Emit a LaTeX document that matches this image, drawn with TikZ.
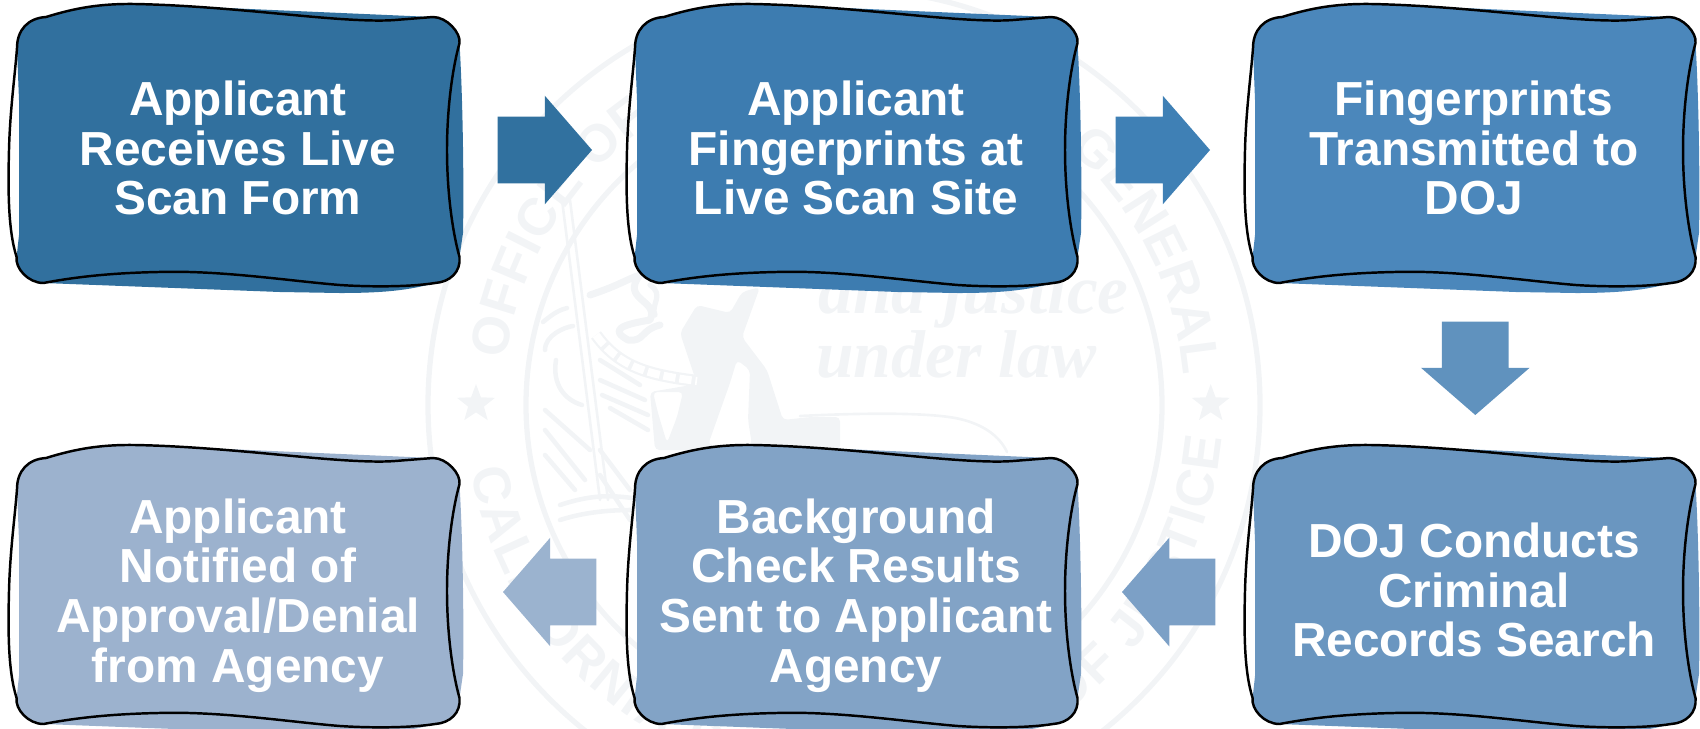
\documentclass[tikz,border=0pt]{standalone}
\usepackage{fontspec}
\setmainfont{Liberation Sans}
\newfontfamily\serifseal{Liberation Serif}
\usetikzlibrary{shapes.arrows,shapes.geometric,decorations.text}
\definecolor{sealc}{HTML}{F2F4F6}
\definecolor{cA}{HTML}{31709E}
\definecolor{cB}{HTML}{3D7CB0}
\definecolor{cC}{HTML}{4B87BB}
\definecolor{cD}{HTML}{6A96C0}
\definecolor{cE}{HTML}{82A3C6}
\definecolor{cF}{HTML}{9CB2CE}
\definecolor{aA}{HTML}{31719F}
\definecolor{aB}{HTML}{3F80B5}
\definecolor{aC}{HTML}{6092BE}
\definecolor{aD}{HTML}{7CA0C6}
\definecolor{aE}{HTML}{9BB3CF}
\newcommand{\sealtext}{\fontsize{30}{30}\selectfont\bfseries\color{sealc}}
\tikzset{
  boxtext/.style={text=white,align=center,inner sep=0pt,
    font=\fontsize{27.2}{28.3}\selectfont\bfseries},
  blockarrow/.style={single arrow,draw=none,outer sep=0pt,anchor=tip,
    single arrow head extend=0.42cm,single arrow tip angle=98,
    single arrow head indent=0pt},
  horizarrow/.style={blockarrow,inner xsep=0pt,inner ysep=0.66cm},
  vertarrow/.style={blockarrow,inner ysep=0pt,inner xsep=0.66cm},
  sealstroke/.style={draw=sealc,line width=2.6pt,line cap=round,line join=round},
  sealline/.style={draw=sealc,line width=1.5pt,line cap=round,line join=round},
  sealstar/.style={star,star points=5,star point ratio=2.4,fill=sealc,draw=none,
    minimum size=0.8cm,inner sep=0pt},
  sealword/.style={text=sealc,inner sep=0pt,anchor=base west,
    font=\serifseal\selectfont\bfseries\itshape},
  outline/.style={draw=black,line width=1.4pt,line join=round}
}
\newcommand{\blobshape}[3]{%
  \begin{scope}[shift={(#1,#2)}]
    \fill[#3] (17,48) .. controls (17,30) and (28,18) .. (46,17)
      .. controls (75,8) and (100,3.5) .. (135,4) -- (433,17)
      .. controls (447,17) and (461,33) .. (459.5,43)
      .. controls (463,100) and (464,190) .. (463,233) -- (459.5,257)
      .. controls (461,272) and (450,282) .. (435,283)
      .. controls (410,290) and (385,293) .. (340,293) -- (280,292) -- (43.5,283)
      .. controls (28,283) and (15,268) .. (16.6,257)
      -- (19,235) -- (19,100) -- cycle;
    \draw[outline] (46,17)
      .. controls (75,8) and (100,3.5) .. (135,4)
      .. controls (190,5) and (250,11) .. (293,15)
      .. controls (325,18) and (370,22) .. (395,20)
      -- (433,17)
      .. controls (447,17) and (461,33) .. (459.5,43)
      .. controls (452,70) and (447,110) .. (447,150)
      .. controls (447,190) and (452,230) .. (459.5,257)
      .. controls (461,272) and (450,282) .. (435,283)
      .. controls (410,287) and (370,287) .. (340,285)
      .. controls (290,281) and (220,270) .. (158,272)
      .. controls (110,273) and (75,277) .. (43.5,283)
      .. controls (28,283) and (15,268) .. (16.6,257)
      .. controls (8,230) and (8,190) .. (9,150)
      .. controls (10,110) and (15,75) .. (17,48)
      .. controls (17,30) and (28,18) .. (46,17) -- cycle;
  \end{scope}}
\begin{document}
\begin{tikzpicture}[x=0.02cm,y=-0.02cm]
\useasboundingbox (0,0) rectangle (1700,728);
\clip (0,0) rectangle (1700,728);
% ---- seal watermark
\coordinate (sc) at (844,405);
\draw[sealc,line width=3pt] (sc) circle (416);
\draw[sealc,line width=3pt] (sc) circle (318);
\node[sealstar] (starL) at (476,404) {};
\node[sealstar] (starR) at (1210.7,404) {};
\path[decorate,decoration={text along path,text align={fit to path},
   text={|\sealtext|OFFICE OF THE ATTORNEY GENERAL|\color{white}|.}}]
   (sc) ++(-172.4:341) arc (-172.4:-4:341);
\path[decorate,decoration={text along path,text align={fit to path},
   text={|\sealtext|CALIFORNIA DEPARTMENT OF JUSTICE|\color{white}|.}}]
   (sc) ++(170:379) arc (170:4:379);
\node[sealword,font=\serifseal\fontsize{39.5}{40}\selectfont\bfseries\itshape] (w1) at (818,313) {and justice};
\node[sealword,font=\serifseal\fontsize{38.5}{40}\selectfont\bfseries\itshape] (w2) at (816,377) {under law};
% spear
\draw[sealline] (562,200) -- (600,500);
\draw[sealline] (570,200) -- (608,500);
% figure mass
\fill[sealc,even odd rule,rounded corners=2.5pt]
  (680,333) -- (697,305) -- (730,313) -- (742,292) -- (760,287) -- (742,337)
  -- (767,370) -- (783,420) -- (810,417) -- (840,417) -- (840,450) -- (655,450)
  -- (650,392) -- (697,384) -- (690,363) -- cycle
  (653,392) -- (683,392) -- (677,417) -- (667,443) -- (658,413) -- cycle
  (737,360) -- (750,370) -- (748,420) -- (752,445) -- (708,445) -- (730,383) -- cycle;
% shield rim with teeth
\draw[sealc,line width=7pt] (596,335) .. controls (620,368) and (650,375) .. (697,381);
\draw[white,line width=4.5pt,dash pattern=on 7pt off 2.2pt] (596,335) .. controls (620,368) and (650,375) .. (697,381);
% plume
\draw[sealstroke,line width=4pt] (590,295) .. controls (620,285) and (625,280) .. (640,275)
  .. controls (620,300) and (660,300) .. (650,320) .. controls (620,325) and (610,330) .. (628,340)
  .. controls (645,342) and (640,330) .. (660,325);
\draw[sealstroke,line width=3pt] (650,285) .. controls (665,295) and (650,305) .. (655,315);
% left figure pieces
\draw[sealstroke] (543,322) .. controls (555,312) and (560,310) .. (567,308);
\draw[sealstroke] (545,350) .. controls (545,335) and (565,327) .. (573,326);
\draw[sealstroke] (556,360) .. controls (552,385) and (565,400) .. (582,405);
\draw[sealstroke] (545,410) -- (590,450);
\draw[sealstroke] (600,360) -- (640,385);
\draw[sealstroke] (600,380) -- (645,400);
\draw[sealstroke] (602,395) -- (648,415);
\draw[sealstroke] (610,408) -- (648,430);
\draw[sealstroke] (545,430) -- (585,480);
\draw[sealstroke] (545,455) -- (575,490);
\draw[sealstroke] (600,450) -- (630,490);
\draw[sealstroke] (600,475) -- (630,520);
\draw[sealstroke] (560,505) .. controls (590,495) and (610,495) .. (632,498);
\draw[sealstroke] (560,520) .. controls (585,512) and (610,510) .. (632,510);
% bear back
\draw[sealline] (800,416) .. controls (860,413) and (930,412) .. (960,419)
  .. controls (985,425) and (1000,437) .. (1007,452);
% ---- boxes
\blobshape{0}{0}{cA}
\blobshape{618}{0}{cB}
\blobshape{1236}{0}{cC}
\blobshape{1236}{441}{cD}
\blobshape{618}{441}{cE}
\blobshape{0}{441}{cF}
\node[boxtext] (n1) at (238,148) {Applicant\\Receives Live\\Scan Form};
\node[boxtext] (n2) at (856,148) {Applicant\\Fingerprints at\\Live Scan Site};
\node[boxtext] (n3) at (1474,148) {Fingerprints\\Transmitted to\\DOJ};
\node[boxtext] (n4) at (1474,590) {DOJ Conducts\\Criminal\\Records Search};
\node[boxtext] (n5) at (856,595.5) {Background\\Check Results\\Sent to Applicant\\Agency};
\node[boxtext] (n6) at (238,595.5) {Applicant\\Notified of\\Approval/Denial\\from Agency};
% ---- block arrows
\node[horizarrow,fill=aA,minimum height=1.89cm,shape border rotate=0] (a1) at (592,150) {};
\node[horizarrow,fill=aB,minimum height=1.89cm,shape border rotate=0] (a2) at (1210,150) {};
\node[vertarrow,fill=aC,minimum height=1.87cm,shape border rotate=270] (a3) at (1475.3,415) {};
\node[horizarrow,fill=aD,minimum height=1.87cm,shape border rotate=180] (a4) at (1122,592) {};
\node[horizarrow,fill=aE,minimum height=1.87cm,shape border rotate=180] (a5) at (503,592) {};
\end{tikzpicture}
\end{document}
